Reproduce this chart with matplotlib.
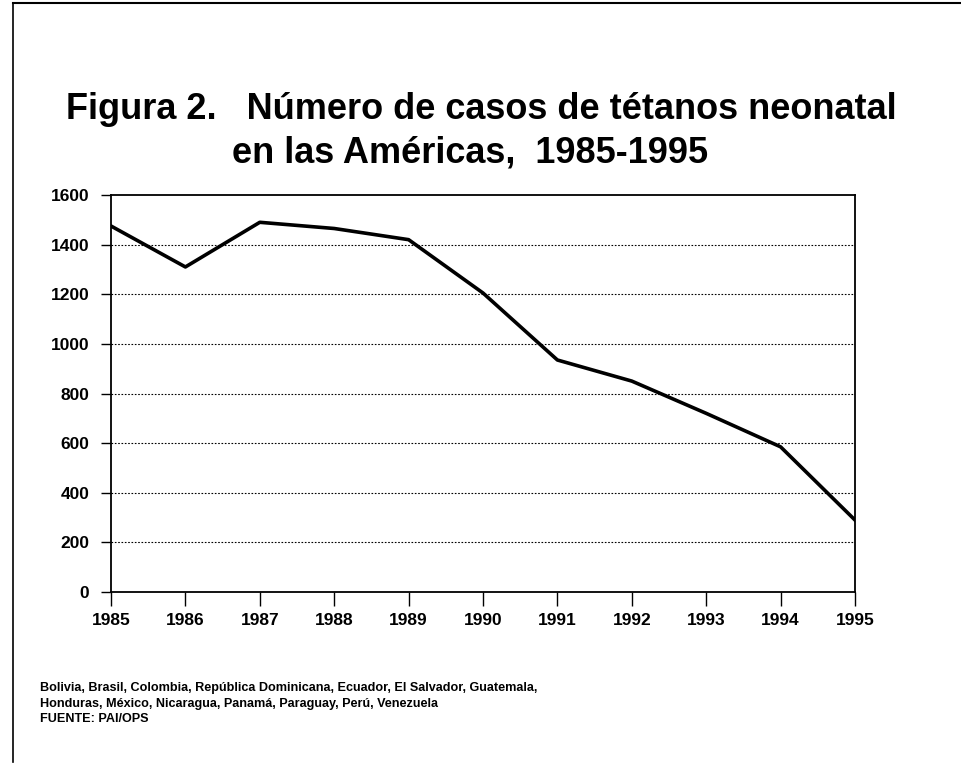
import matplotlib.pyplot as plt
from matplotlib.lines import Line2D

# neonatal tetanus cases, Americas
years = list(range(1985, 1996))
cases = [1475, 1310, 1490, 1465, 1420, 1205, 935, 850, 720, 585, 290]
y_ticks = [0, 200, 400, 600, 800, 1000, 1200, 1400, 1600]

TITLE_1 = 'Figura 2.   Número de casos de tétanos neonatal'
TITLE_2 = 'en las Américas,  1985-1995'
NOTE = ('Bolivia, Brasil, Colombia, República Dominicana, Ecuador, El Salvador, Guatemala,\n'
        'Honduras, México, Nicaragua, Panamá, Paraguay, Perú, Venezuela\n'
        'FUENTE: PAI/OPS')

plt.rcParams['font.family'] = ['Liberation Sans', 'DejaVu Sans']

W, H = 961, 770
fig = plt.figure(figsize=(W / 100, H / 100), dpi=100)

# axes box in pixels: left 111, right 855, top 195, bottom 592
ax = fig.add_axes([111 / W, 1 - 592 / H, (855 - 111) / W, (592 - 195) / H])
ax.plot(years, cases, color='black', lw=2.6, solid_joinstyle='round')

ax.set_xlim(1985, 1995)
ax.set_ylim(0, 1600)
ax.set_xticks(years)
ax.set_yticks(y_ticks)
ax.tick_params(axis='x', direction='out', length=10, width=1, pad=5, labelsize=12.5)
ax.tick_params(axis='y', direction='out', length=7.5, width=1, pad=8, labelsize=12.5)
for lbl in ax.get_xticklabels() + ax.get_yticklabels():
    lbl.set_fontweight('bold')

for v in y_ticks[1:-1]:
    ax.axhline(v, color='black', lw=0.8, ls=(0, (1.5, 1.5)), zorder=0)

for s in ax.spines.values():
    s.set_linewidth(1.3)

fig.text(481 / W, 1 - 119 / H, TITLE_1, fontsize=26, fontweight='bold',
         ha='center', va='baseline')
fig.text(232 / W, 1 - 163 / H, TITLE_2, fontsize=26, fontweight='bold',
         ha='left', va='baseline')
fig.text(40 / W, 1 - 682 / H, NOTE, fontsize=9.1, fontweight='bold', ha='left', va='top',
         linespacing=1.4)

# scanned page frame
fig.add_artist(Line2D([13 / W, 1], [1 - 3 / H, 1 - 3 / H], color='black', lw=1.5))
fig.add_artist(Line2D([13 / W, 13 / W], [1 - 3 / H, 1 - 762 / H], color='black', lw=1.2))

fig.savefig('out.png', dpi=100)
